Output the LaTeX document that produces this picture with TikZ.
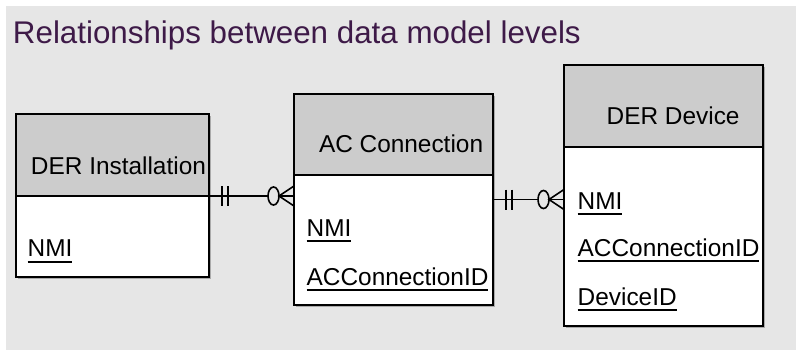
\documentclass[tikz,border=0pt]{standalone}
\usepackage{fontspec}
\setmainfont{Liberation Sans}
\usetikzlibrary{calc}
\definecolor{bg}{RGB}{230,230,230}
\definecolor{hdr}{RGB}{204,204,204}
\definecolor{ttl}{RGB}{62,26,72}
\definecolor{shadow}{RGB}{170,170,170}
\newcommand\erlink[2]{%
  \draw[conn] (#1) -- (#2);
  \draw[conn] ($(#1)+(13,-10)$) -- ($(#1)+(13,10)$);
  \draw[conn] ($(#1)+(19,-10)$) -- ($(#1)+(19,10)$);
  \draw[conn,fill=bg] ($(#2)+(-20.5,0)$) ellipse [x radius=5.5*0.75pt, y radius=9*0.75pt];
  \draw[conn] ($(#2)+(0,-10)$) -- ($(#2)+(-15,0)$) -- ($(#2)+(0,10)$);
}
\begin{document}
\begin{tikzpicture}[x=0.75pt,y=-0.75pt,
  hdrbox/.style={draw=black,line width=1.4pt,fill=hdr,anchor=north west,inner sep=0,outer sep=0},
  bodybox/.style={draw=black,line width=1.4pt,fill=white,anchor=north west,inner sep=0,outer sep=0},
  lbl/.style={anchor=base west,inner sep=0,outer sep=0,font=\fontsize{18.3pt}{20pt}\selectfont},
  conn/.style={draw=black,line width=1.2pt},
  ul/.style={draw=black,line width=1.7pt}]
\useasboundingbox (0,0) rectangle (796,350);
\fill[bg] (6,6) rectangle (796,350);
\node[anchor=base west,inner sep=0,text=ttl,font=\fontsize{23.5pt}{26pt}\selectfont] (title) at (12.7,43) {Relationships between data model levels};
% shadows
\fill[shadow] (18,116) rectangle (211,279);
\fill[shadow] (296,96) rectangle (495,307);
\fill[shadow] (566,67) rectangle (765,328);
% DER Installation
\node[hdrbox,minimum width={193*0.75pt},minimum height={82*0.75pt}] (insthdr) at (16,114) {};
\node[bodybox,minimum width={193*0.75pt},minimum height={81*0.75pt}] (instbody) at (16,196) {};
% AC Connection
\node[hdrbox,minimum width={199*0.75pt},minimum height={81*0.75pt}] (achdr) at (294,94) {};
\node[bodybox,minimum width={199*0.75pt},minimum height={130*0.75pt}] (acbody) at (294,175) {};
% DER Device
\node[hdrbox,minimum width={199*0.75pt},minimum height={82*0.75pt}] (devhdr) at (564,65) {};
\node[bodybox,minimum width={199*0.75pt},minimum height={179*0.75pt}] (devbody) at (564,147) {};
% labels
\node[lbl] (instt) at (31,174) {DER Installation};
\node[lbl] (instnmi) at (27.7,256.7) {NMI};
\node[lbl] (act) at (319,152.7) {AC Connection};
\node[lbl] (acnmi) at (306.7,236) {NMI};
\node[lbl] (acid) at (306.7,285) {ACConnectionID};
\node[lbl] (devt) at (606.7,124) {DER Device};
\node[lbl] (devnmi) at (577.7,209.3) {NMI};
\node[lbl] (devac) at (577.7,256) {ACConnectionID};
\node[lbl] (devid) at (577.7,305) {DeviceID};
% underlines
\foreach \n in {instnmi,acnmi,acid,devnmi,devac,devid}{
  \draw[ul] ($(\n.base west)+(0,5)$) -- ($(\n.base east)+(0,5)$);
}
% connectors
\coordinate (c1s) at (instbody.north east);
\coordinate (c1e) at (acbody.west |- c1s);
\erlink{c1s}{c1e}
\coordinate (c2s) at ($(acbody.north east)+(0,24.5)$);
\coordinate (c2e) at (devbody.west |- c2s);
\erlink{c2s}{c2e}
\end{tikzpicture}
\end{document}
